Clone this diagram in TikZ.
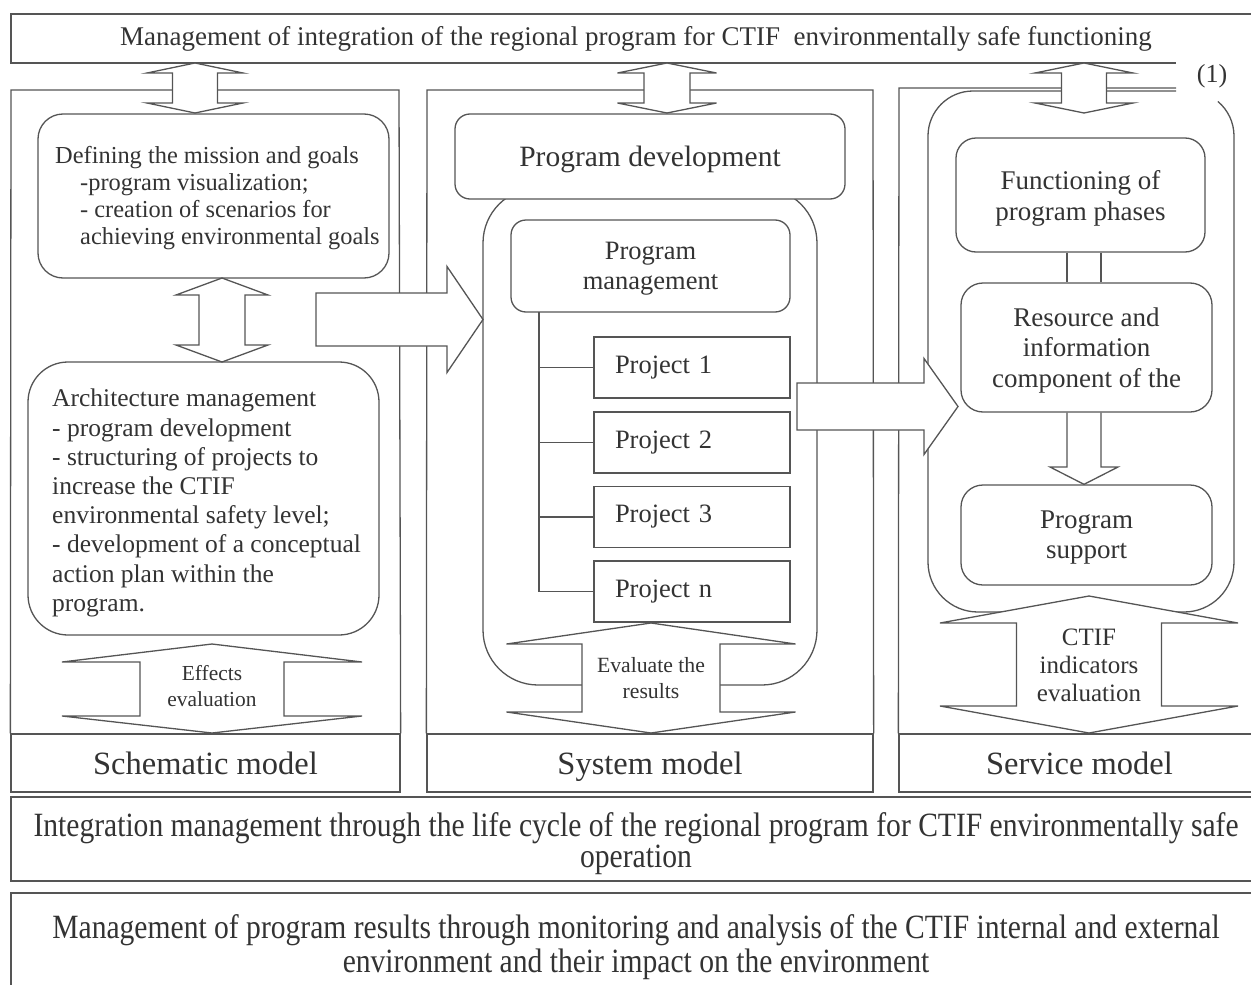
\documentclass[tikz,border=0pt]{standalone}
\usepackage{fontspec}
\setmainfont{Liberation Serif}
\newfontfamily\narrowfont[FakeStretch=0.87]{Liberation Serif}
\usetikzlibrary{calc}
\definecolor{lc}{HTML}{555555}
\definecolor{tc}{HTML}{333333}
\newcommand\fs[2]{\fontsize{#1}{#2}\selectfont}
% vertical double block arrow: cx, top tip, top head base, bottom head base, bottom tip, half shaft, half head
\newcommand\vda[7]{\draw[blk] (#1,#2) -- ({#1+#7},#3) -- ({#1+#6},#3) -- ({#1+#6},#4) -- ({#1+#7},#4) -- (#1,#5) -- ({#1-#7},#4) -- ({#1-#6},#4) -- ({#1-#6},#3) -- ({#1-#7},#3) -- cycle;}
% horizontal right block arrow: shaft left x, head base x, tip x, centre y, half shaft, half head
\newcommand\hra[6]{\draw[blk] (#1,{#4-#5}) -- (#2,{#4-#5}) -- (#2,{#4-#6}) -- (#3,#4) -- (#2,{#4+#6}) -- (#2,{#4+#5}) -- (#1,{#4+#5}) -- cycle;}
\begin{document}
\begin{tikzpicture}[x=1pt,y=-1pt,
  ln/.style={draw=lc,line width=1.3pt},
  box/.style={ln,fill=white,inner sep=0pt,text=tc},
  tbox/.style={box,text depth=0pt},
  blk/.style={ln,fill=white,line join=miter},
  txt/.style={text=tc,inner sep=0pt},
  proj/.style={box,text width=154pt,inner xsep=21pt,minimum height=61pt,align=left,font=\fs{26.5}{30}},
  model/.style={box,text depth=0pt,minimum height=58pt,font=\fs{32.5}{36}}
]
\useasboundingbox (0,0) rectangle (1251,985);

% ---------- top band ----------
\draw[ln] (1260,14) -- (11,14) -- (11,63) -- (1176,63);
\node[txt,font=\fs{27}{30}] (toptxt) at (636,39) {Management of integration of the regional program for CTIF\enspace environmentally safe functioning};
\node[txt,font=\fs{26}{30}] (one) at (1212,76) {(1)};

% ---------- column outlines ----------
\node[model,minimum width=389pt] (schem) at (205.5,763) {Schematic model};
\draw[ln] (schem.north west) -- (11,90) -- (399,90) -- (schem.north east);
\node[model,minimum width=446pt] (sysm) at (650,763) {System model};
\draw[ln] (sysm.north west) -- (427,90) -- (873,90) -- (sysm.north east);
\node[model,minimum width=361pt] (serm) at (1079.5,763) {Service model};
\draw[ln] (serm.north west) -- (899,88) -- (1176,88);

% ---------- left column ----------
\node[box,rounded corners=25pt,minimum width=351pt,minimum height=164pt] (defbox) at (213.5,196) {};
\node[txt,anchor=west,align=left,font=\fs{24.4}{27}] (deftxt) at (55,198) {Defining the mission and goals\\\hspace*{25pt}-program visualization;\\\hspace*{25pt}- creation of scenarios for\\\hspace*{25pt}achieving environmental goals};
\node[box,rounded corners=40pt,minimum width=351pt,minimum height=273pt] (archbox) at (203.5,498.5) {};
\node[txt,anchor=west,align=left,font=\fs{25.5}{29.2}] (archtxt) at (52,503) {Architecture management\\- program development\\- structuring of projects to\\increase the CTIF\\environmental safety level;\\- development of a conceptual\\action plan within the\\program.};
\vda{222}{278}{295}{345}{362}{23}{46}
\vda{212}{644}{662}{716}{733}{72}{150}
\node[txt,align=center,font=\fs{21.4}{26}] (effects) at (212,686) {Effects\\evaluation};

% ---------- middle column ----------
\draw[ln,rounded corners=55pt] (483,188) rectangle (817,685);
\node[tbox,rounded corners=15pt,minimum width=390pt,minimum height=85pt,font=\fs{29.5}{33}] (pdev) at (650,156.5) {Program development};
\node[tbox,rounded corners=15pt,minimum width=279pt,minimum height=92pt,align=center,font=\fs{26.5}{30}] (pman) at (650.5,266) {Program\\management};
\node[proj] (p1) at (692,367.5) {Project 1};
\node[proj] (p2) at (692,442.5) {Project 2};
\node[proj] (p3) at (692,517) {Project 3};
\node[proj] (pn) at (692,591.5) {Project n};
\coordinate (trunk) at (539,312);
\draw[ln] (trunk) |- (p1.west);
\draw[ln] (trunk) |- (p2.west);
\draw[ln] (trunk) |- (p3.west);
\draw[ln] (trunk) |- (pn.west);
\vda{651}{623}{644}{712}{733}{69}{144.5}
\node[txt,align=center,font=\fs{21.7}{26}] (evalres) at (651,678) {Evaluate the\\results};

% ---------- right column ----------
\draw[ln] (1176,91) -- (973,91) arc[start angle=-90,end angle=-180,radius=45] -- (928,562) arc[start angle=180,end angle=90,radius=50] -- (1184,612) arc[start angle=90,end angle=0,radius=50] -- (1234,136) arc[start angle=0,end angle=-50,radius=45];
\node[tbox,rounded corners=20pt,minimum width=249pt,minimum height=114pt,align=center,font=\fs{27}{31}] (func) at (1080.5,195) {Functioning of\\program phases};
\node[tbox,rounded corners=22pt,minimum width=251pt,minimum height=129pt,align=center,font=\fs{27}{30.5}] (res) at (1086.5,347.5) {Resource and\\information\\component of the};
\node[tbox,rounded corners=22pt,minimum width=251pt,minimum height=100pt,align=center,font=\fs{27}{30}] (sup) at (1086.5,535) {Program\\support};
\coordinate (cl) at (1067,0);
\coordinate (cr) at (1101,0);
\draw[ln] (func.south -| cl) -- (res.north -| cl);
\draw[ln] (func.south -| cr) -- (res.north -| cr);
\draw[ln,line join=miter] (res.south -| cl) -- (1067,467) -- (1050,467) -- (sup.north -| 1084,0) -- (1118,467) -- (1101,467) -- (res.south -| cr);
\vda{1089}{596}{623}{706}{733}{72.5}{149}
\node[txt,align=center,font=\fs{25}{28}] (ctif) at (1089,665) {CTIF\\indicators\\evaluation};

% ---------- horizontal block arrows ----------
\hra{316}{447}{483}{319.5}{26.5}{53}
\hra{797}{924}{958}{406.5}{23.5}{48}

% ---------- top double arrows ----------
\vda{195}{63}{73}{103}{113}{22.5}{48}
\vda{667}{63}{73}{103}{113}{23}{49.5}
\vda{1084}{63}{73}{103}{113}{22.5}{49}

% ---------- bottom bands ----------
\node[box,minimum width=1249pt,minimum height=84pt] (integ) at (635.5,839) {};
\node[txt,align=center,font=\narrowfont\fs{34}{31}] (integtxt) at (636,844) {Integration management through the life cycle of the regional program for CTIF environmentally safe\\operation};
\node[box,minimum width=1249pt,minimum height=100pt] (mgmt) at (635.5,943) {};
\node[txt,align=center,font=\narrowfont\fs{34}{34}] (mgmttxt) at (636,947) {Management of program results through monitoring and analysis of the CTIF internal and external\\environment and their impact on the environment};
\end{tikzpicture}
\end{document}
